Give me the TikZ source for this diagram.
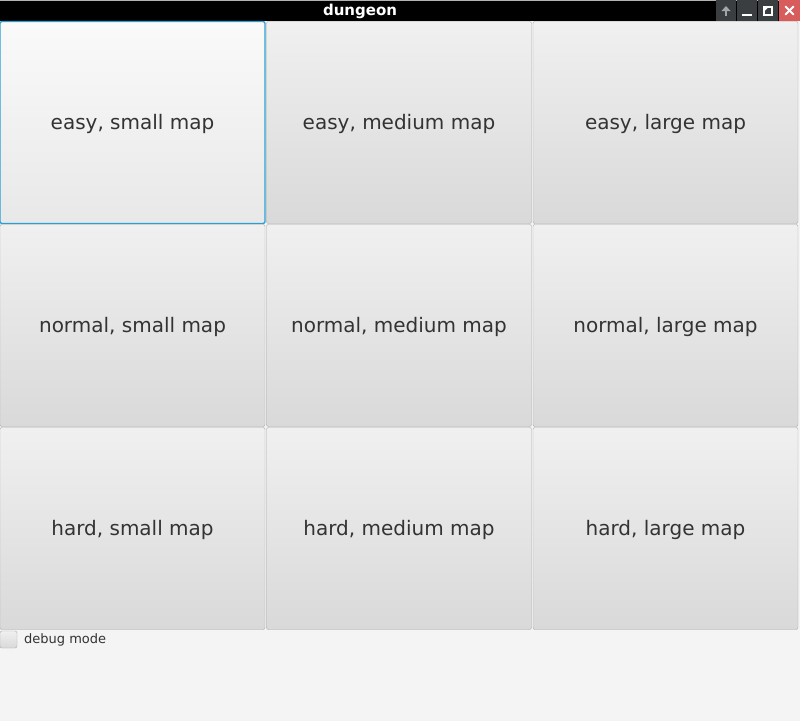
\documentclass[tikz,border=0pt]{standalone}
\usepackage{fontspec}
\setmainfont{DejaVu Sans}
\definecolor{winbg}{HTML}{F4F4F4}
\definecolor{btntop}{HTML}{F0F0F0}
\definecolor{btnbot}{HTML}{D9D9D9}
\definecolor{seltop}{HTML}{FAFAFA}
\definecolor{selbot}{HTML}{E8E8E8}
\definecolor{btnedge}{HTML}{ABABAB}
\definecolor{focusblue}{HTML}{2A9FD6}
\definecolor{btntext}{HTML}{333333}
\definecolor{barbtn}{HTML}{3B3E41}
\definecolor{closered}{HTML}{D95C5C}
\begin{document}
\begin{tikzpicture}[x=1pt,y=-1pt,
    btn/.style={draw=btnedge, rounded corners=2pt, top color=btntop, bottom color=btnbot,
        minimum width=265pt, minimum height=202pt, inner sep=0pt, text=btntext,
        text height=14pt, text depth=0pt, font=\fontsize{20}{24}\selectfont},
    focus/.style={draw=focusblue, line width=1.3pt, top color=seltop, bottom color=selbot},
    barkey/.style={fill=barbtn, draw=none},
    icon/.style={draw=white, line width=2pt}]
        \useasboundingbox (0,0) rectangle (800,721);
        % window and title bar
        \fill[winbg] (0,0) rectangle (800,721);
        \fill[black] (0,0) rectangle (800,21);
        \draw[gray!60] (0,0.5)--(800,0.5);
        \node[text=white, font=\fontsize{15}{18}\selectfont\bfseries] (title) at (360,11) {dungeon};
        \fill[barkey] (716,0) rectangle (736,21);
        \fill[barkey] (737,0) rectangle (757,21);
        \fill[barkey] (758,0) rectangle (778,21);
        \fill[closered] (779,0) rectangle (800,21);
        \draw[icon, draw=gray!70] (726,16)--(726,8);
        \fill[gray!70] (721.5,11)--(726,6)--(730.5,11)--cycle;
        \draw[icon] (742,14.5)--(752,14.5);
        \draw[icon] (764,7)--(772,7)--(772,15)--(764,15)--cycle;
        \fill[white] (764,7)--(768.5,7)--(764,11.5)--cycle;
        \draw[icon, line cap=round] (785.5,6.5)--(793.5,14.5);
        \draw[icon, line cap=round] (785.5,14.5)--(793.5,6.5);
        % the nine buttons
        \node[btn, focus] (b11) at (132.5,122.5) {easy, small map};
        \foreach \lvl [count=\r] in {easy,normal,hard}{
            \foreach \sz [count=\c] in {small,medium,large}{
                \ifnum\r\c=11\else
                \node[btn] (b\r\c) at ({266.5*\c-134},{203*\r-80.5}) {\lvl, \sz\ map};
                \fi
            }
        }
        % debug checkbox
        \node[draw=btnedge, rounded corners=2pt, top color=btntop, bottom color=btnbot,
            minimum size=17pt, inner sep=0pt] (dbg) at (8.5,639.5) {};
        \node[anchor=west, inner sep=0pt, text=btntext, font=\fontsize{13}{15}\selectfont] (dbgtext) at (24,639.5) {debug mode};
        \end{tikzpicture}
\end{document}
